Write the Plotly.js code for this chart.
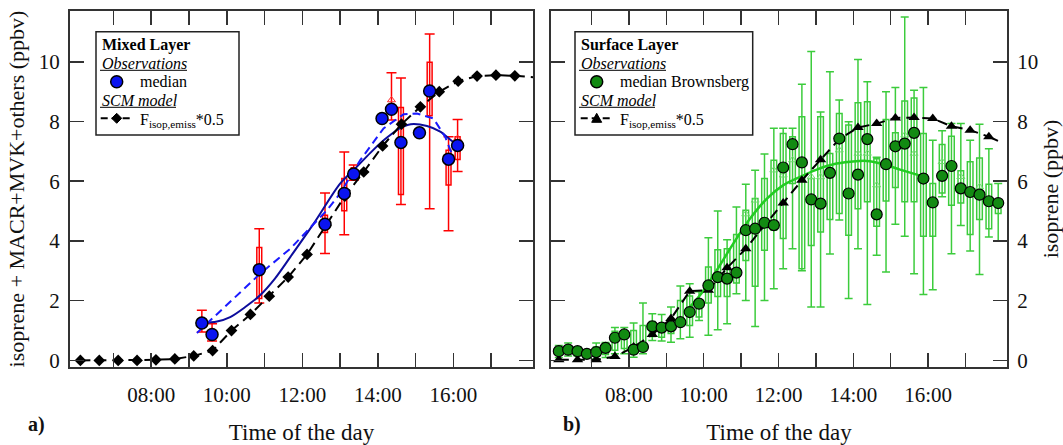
<!DOCTYPE html>
<html><head><meta charset="utf-8">
<script src="https://cdn.plot.ly/plotly-3.0.1.min.js"></script>
<style>html,body{margin:0;padding:0;background:#fff}#chart{width:1063px;height:445px}</style>
</head><body><div id="chart"></div>
<script>
// ---------- shared axis data ----------
const xTickVals = [8, 10, 12, 14, 16];
const xTickText = ['08:00', '10:00', '12:00', '14:00', '16:00'];
const xMinorVals = [7, 9, 11, 13, 15, 17];
const yTickVals = [0, 2, 4, 6, 8, 10];

// ---------- panel a: Mixed Layer ----------
const mlTime   = [9.34, 9.61, 10.86, 12.60, 13.11, 13.36, 14.11, 14.36, 14.61, 15.10, 15.37, 15.87, 16.11];
const mlMedian = [1.25, 0.87, 3.04, 4.56, 5.59, 6.24, 8.10, 8.41, 7.30, 7.62, 9.02, 6.74, 7.20];

const mlBoxTime   = [9.34, 9.61, 10.86, 12.60, 13.11, 13.36, 14.36, 14.61, 15.37, 15.87, 16.11];
const mlBoxMedian = [1.25, 0.87, 3.04, 4.56, 5.59, 6.24, 8.41, 7.30, 9.02, 6.74, 7.20];
const mlQ1 = [1.15, 0.80, 2.07, 4.28, 5.01, 6.05, 8.05, 5.56, 8.19, 5.87, 6.73];
const mlQ3 = [1.30, 0.95, 3.78, 4.86, 6.09, 6.45, 8.40, 8.47, 9.98, 7.04, 7.49];
const mlLo = [0.95, 0.65, 1.92, 3.58, 4.21, 6.03, 8.05, 5.22, 5.08, 4.34, 6.33];
const mlHi = [1.68, 1.23, 4.41, 5.61, 6.98, 6.54, 9.63, 9.46, 10.93, 7.49, 8.07];
const mlMeanTime = [14.36, 16.11];
const mlMean     = [8.72, 7.43];

const mlFitSolidTime = [9.34, 9.74, 10.09, 10.48, 10.88, 11.28, 11.68, 12.30, 13.00, 13.44, 13.80, 14.20, 14.59, 14.87, 15.30, 15.65, 15.91, 16.11];
const mlFitSolid     = [1.25, 1.30, 1.45, 1.78, 2.18, 2.75, 3.46, 4.58, 5.92, 6.48, 6.95, 7.42, 7.78, 7.91, 7.85, 7.66, 7.40, 7.20];
const mlFitDashTime  = [9.21, 10.88, 11.68, 12.65, 13.00, 13.53, 14.15, 14.68, 15.03, 15.47, 15.78, 15.96];
const mlFitDash      = [0.92, 2.90, 3.74, 5.03, 5.59, 6.70, 7.77, 8.24, 8.27, 8.10, 7.49, 6.91];

const modelTime = [6.125, 6.625, 7.125, 7.625, 8.125, 8.625, 9.125, 9.625, 10.125, 10.625, 11.125, 11.625,
                   12.125, 12.625, 13.125, 13.625, 14.125, 14.625, 15.125, 15.625, 16.125, 16.625, 17.125, 17.625];
const mlModel   = [0, 0, 0, 0, 0.02, 0.05, 0.15, 0.33, 1.00, 1.54, 2.15, 2.79,
                   3.55, 4.53, 5.50, 6.31, 7.18, 7.91, 8.49, 9.00, 9.35, 9.52, 9.55, 9.53];
const mlModelTailTime = [17.625, 18.11];
const mlModelTail     = [9.53, 9.48];

// ---------- panel b: Surface Layer ----------
const slTime = [6.125, 6.375, 6.625, 6.875, 7.125, 7.375, 7.625, 7.875, 8.125, 8.375, 8.625, 8.875,
                9.125, 9.375, 9.625, 9.875, 10.125, 10.375, 10.625, 10.875, 11.125, 11.375, 11.625, 11.875,
                12.125, 12.375, 12.625, 12.875, 13.125, 13.375, 13.625, 13.875, 14.125, 14.375, 14.625, 14.875,
                15.125, 15.375, 15.625, 15.875, 16.125, 16.375, 16.625, 16.875, 17.125, 17.375, 17.625, 17.875];
const slMedian = [0.31, 0.36, 0.31, 0.22, 0.28, 0.42, 0.76, 0.87, 0.36, 0.45, 1.14, 1.10,
                  1.14, 1.28, 1.62, 1.90, 2.51, 2.79, 2.74, 2.94, 4.36, 4.41, 4.61, 4.53,
                  6.46, 7.24, 6.63, 5.39, 5.25, 6.28, 7.43, 5.59, 6.22, 7.41, 4.89, 6.57,
                  7.17, 7.26, 7.62, 6.09, 5.29, 6.18, 6.51, 5.76, 5.64, 5.55, 5.33, 5.27];
const slQ1 = [0.20, 0.25, 0.20, 0.15, 0.15, 0.20, 0.34, 0.40, 0.22, 0.40, 0.80, 0.78,
              0.90, 1.17, 1.17, 1.45, 1.92, 2.14, 2.14, 2.59, 3.35, 2.48, 3.69, 4.36,
              4.08, 5.92, 3.07, 3.85, 4.30, 4.72, 4.92, 4.19, 5.08, 5.31, 4.49, 5.34,
              5.79, 5.31, 5.31, 4.16, 4.16, 5.61, 5.20, 5.27, 4.22, 4.72, 4.41, 4.92];
const slQ3 = [0.40, 0.45, 0.40, 0.30, 0.45, 0.55, 0.98, 0.90, 1.00, 1.17, 1.30, 1.23,
              1.40, 2.01, 2.16, 1.96, 3.13, 3.71, 3.74, 4.22, 5.03, 5.42, 6.09, 6.70,
              7.60, 7.49, 8.16, 6.09, 8.16, 6.93, 8.27, 7.88, 8.63, 8.66, 6.75, 8.07,
              7.62, 8.69, 8.79, 7.60, 5.92, 7.23, 7.51, 6.35, 6.65, 6.78, 5.90, 5.35];
const slLo = [0.10, 0.15, 0.15, 0.10, 0.05, 0.10, 0.22, 0.22, 0.11, 0.22, 0.67, 0.65,
              0.61, 0.73, 0.78, 1.34, 0.84, 1.03, 1.23, 2.23, 2.01, 1.14, 2.01, 2.40,
              3.07, 3.74, 3.00, 1.79, 1.79, 3.56, 4.70, 2.07, 3.74, 1.87, 3.52, 2.96,
              4.56, 4.16, 2.90, 2.21, 2.37, 5.48, 3.57, 4.52, 3.66, 2.88, 4.13, 4.00];
const slHi = [0.50, 0.58, 0.45, 0.33, 0.58, 0.60, 1.10, 1.10, 1.25, 1.92, 1.56, 1.54,
              1.79, 2.49, 2.57, 2.30, 4.11, 5.00, 4.04, 5.14, 5.90, 6.37, 6.91, 7.77,
              7.77, 7.77, 9.25, 10.34, 8.32, 9.67, 8.72, 7.99, 10.08, 9.33, 6.80, 9.00,
              9.14, 11.50, 9.05, 9.14, 7.37, 7.69, 7.93, 7.93, 7.37, 7.91, 7.09, 5.92];
const slMeanTime = [11.125, 11.375, 11.875, 12.125, 12.375, 12.875, 13.125, 13.625, 14.125, 14.375,
                    14.625, 15.375, 15.625, 16.375, 16.875, 17.375];
const slMean     = [4.90, 5.36, 6.37, 6.20, 6.71, 6.15, 6.14, 7.04, 6.93, 6.93,
                    5.87, 7.54, 6.93, 6.65, 6.15, 5.81];

const slFitTime = [9.60, 9.90, 10.35, 10.79, 11.24, 11.69, 12.13, 12.58, 13.02, 13.47, 13.92, 14.36, 14.81, 15.25, 15.70, 16.01];
const slFit     = [1.75, 2.18, 3.02, 3.91, 4.75, 5.42, 5.87, 6.15, 6.39, 6.57, 6.65, 6.68, 6.57, 6.39, 6.22, 6.09];

const slModel = [0.02, 0.02, 0.02, 0.13, 0.45, 0.87, 1.40, 2.32, 2.35, 3.10, 3.74, 4.52,
                 5.27, 6.03, 6.72, 7.41, 7.80, 7.93, 8.12, 8.13, 8.10, 7.84, 7.71, 7.49];
const slModelTailTime = [17.625, 17.93];
const slModelTail     = [7.49, 7.32];

// ---------- styles & page geometry ----------
const FONT = 'Liberation Serif, Times New Roman, serif';
const AX = '#333333';
const dashModel = '10px,6px';
const W = 1063, H = 445, ML = 70, MR = 56, MT = 11, MB = 78;
const px = v => (v - ML) / (W - ML - MR);   // pixel column -> paper x
const py = v => (H - MB - v) / (H - MT - MB); // pixel row -> paper y

function whiskers(x, lo, hi, color, capHalf, xa, ya) {
  return {
    type: 'scatter', mode: 'markers', x: x, y: hi, xaxis: xa, yaxis: ya,
    marker: {size: 1, color: 'rgba(0,0,0,0)'},
    error_y: {type: 'data', symmetric: false, array: hi.map(() => 0),
              arrayminus: hi.map((h, i) => h - lo[i]),
              color: color, thickness: 1.5, width: capHalf},
    showlegend: false, hoverinfo: 'skip'
  };
}
function boxes(x, q1, med, q3, color, w, xa, ya) {
  return {
    type: 'box', orientation: 'v', x: x, q1: q1, median: med, q3: q3,
    lowerfence: q1, upperfence: q3, width: w, whiskerwidth: 0,
    line: {color: color, width: 1.5}, fillcolor: '#ffffff', boxpoints: false,
    xaxis: xa, yaxis: ya, showlegend: false, hoverinfo: 'skip'
  };
}
function means(x, y, color, xa, ya) {
  return {type: 'scatter', mode: 'markers', x: x, y: y, xaxis: xa, yaxis: ya,
          marker: {symbol: 'triangle-up-open', size: 7, color: color, line: {width: 1}},
          showlegend: false, hoverinfo: 'skip'};
}

const traces = [
  // panel a
  whiskers(mlBoxTime, mlLo, mlHi, '#ff0000', 5, 'x', 'y'),
  boxes(mlBoxTime, mlQ1, mlBoxMedian, mlQ3, '#ff0000', 0.13, 'x', 'y'),
  means(mlMeanTime, mlMean, '#ff3030', 'x', 'y'),
  {type: 'scatter', mode: 'lines', x: mlFitSolidTime, y: mlFitSolid, xaxis: 'x', yaxis: 'y',
   line: {color: '#0c0c9c', width: 2, shape: 'spline', smoothing: 0.8}, showlegend: false, hoverinfo: 'skip'},
  {type: 'scatter', mode: 'lines', x: mlFitDashTime, y: mlFitDash, xaxis: 'x', yaxis: 'y',
   line: {color: '#1a1aff', width: 2, dash: '8px,5px', shape: 'linear'}, showlegend: false, hoverinfo: 'skip'},
  {type: 'scatter', mode: 'lines', x: mlModelTailTime, y: mlModelTail, xaxis: 'x', yaxis: 'y',
   line: {color: '#000', width: 2, dash: dashModel}, showlegend: false, hoverinfo: 'skip'},
  {type: 'scatter', mode: 'lines+markers', x: modelTime, y: mlModel, xaxis: 'x', yaxis: 'y',
   name: 'F_isop,emiss*0.5', showlegend: false,
   line: {color: '#000', width: 2, dash: dashModel}, marker: {symbol: 'diamond', size: 9, color: '#000'}},
  {type: 'scatter', mode: 'markers', x: mlTime, y: mlMedian, xaxis: 'x', yaxis: 'y',
   name: 'median', showlegend: false,
   marker: {color: '#0a14f0', size: 12, line: {color: '#000', width: 1.5}}},
  // panel b
  whiskers(slTime, slLo, slHi, '#3ccc3c', 4, 'x2', 'y2'),
  boxes(slTime, slQ1, slMedian, slQ3, '#3ccc3c', 0.15, 'x2', 'y2'),
  means(slMeanTime, slMean, '#6edc6e', 'x2', 'y2'),
  {type: 'scatter', mode: 'lines', x: slFitTime, y: slFit, xaxis: 'x2', yaxis: 'y2',
   line: {color: '#22cc22', width: 2.5, shape: 'spline'}, showlegend: false, hoverinfo: 'skip'},
  {type: 'scatter', mode: 'lines', x: slModelTailTime, y: slModelTail, xaxis: 'x2', yaxis: 'y2',
   line: {color: '#000', width: 2, dash: dashModel}, showlegend: false, hoverinfo: 'skip'},
  {type: 'scatter', mode: 'lines+markers', x: modelTime, y: slModel, xaxis: 'x2', yaxis: 'y2',
   name: 'F_isop,emiss*0.5', showlegend: false,
   line: {color: '#000', width: 2, dash: dashModel}, marker: {symbol: 'triangle-up', size: 10, color: '#000'}},
  {type: 'scatter', mode: 'markers', x: slTime, y: slMedian, xaxis: 'x2', yaxis: 'y2',
   name: 'median Brownsberg', showlegend: false,
   marker: {color: '#128a12', size: 11, line: {color: '#000', width: 1.2}}}
];

function xaxisDef(domain, range, anchor) {
  return {
    domain: domain, range: range, anchor: anchor,
    tickmode: 'array', tickvals: xTickVals, ticktext: xTickText,
    ticks: 'inside', ticklen: 14, tickwidth: 1.5, tickcolor: AX,
    minor: {tickmode: 'array', tickvals: xMinorVals, ticks: 'inside', ticklen: 14, tickwidth: 1.5, tickcolor: AX, showgrid: false},
    showline: true, linecolor: AX, linewidth: 2, mirror: 'ticks',
    showgrid: false, zeroline: false, ticklabelstandoff: 8,
    tickfont: {family: FONT, size: 21, color: '#111'},
    title: {text: 'Time of the day', font: {family: FONT, size: 23, color: '#111'}, standoff: 31}
  };
}
function yaxisDef(anchor, side, title) {
  return {
    domain: [0, 1], range: [-0.22, 11.7], anchor: anchor, side: side,
    tickmode: 'array', tickvals: yTickVals,
    ticks: 'inside', ticklen: 14, tickwidth: 1.5, tickcolor: AX,
    showline: true, linecolor: AX, linewidth: 2, mirror: 'ticks',
    showgrid: false, zeroline: false, ticklabelstandoff: 4,
    tickfont: {family: FONT, size: 21, color: '#111'},
    title: {text: title, font: {family: FONT, size: 22, color: '#111'}, standoff: 8}
  };
}

// ---------- hand-built legend boxes ----------
const legFont = {family: FONT, size: 16, color: '#000'};
const legBold = {family: FONT, size: 16, color: '#000', weight: 'bold'};
const legItal = {family: FONT, size: 16, color: '#000', style: 'italic'};
function legend(box, textX, symX, title, obsText, obsColor, modelSymbolPath) {
  const L = box[0] + 4;
  const uline = (x0, len, y) => ({type: 'line', xref: 'paper', yref: 'paper', x0: px(x0), x1: px(x0 + len),
                                  y0: py(y), y1: py(y), line: {color: '#000', width: 1}, layer: 'above'});
  const shapes = [
    {type: 'rect', xref: 'paper', yref: 'paper', x0: px(box[0]), x1: px(box[1]), y0: py(135), y1: py(31.7),
     line: {color: '#222', width: 1.5}, fillcolor: '#ffffff', layer: 'above'},
    uline(L, 87, 70.3),
    uline(L, 76, 107.3),
    {type: 'circle', xref: 'paper', yref: 'paper', xsizemode: 'pixel', ysizemode: 'pixel',
     xanchor: px(symX), yanchor: py(81.7), x0: -6, x1: 6, y0: -6, y1: 6,
     fillcolor: obsColor, line: {color: '#000', width: 1.5}, layer: 'above'},
    {type: 'line', xref: 'paper', yref: 'paper', x0: px(symX - 16), x1: px(symX + 14), y0: py(118.3), y1: py(118.3),
     line: {color: '#000', width: 2, dash: '7px,4px'}, layer: 'above'},
    {type: 'path', xref: 'paper', yref: 'paper', xsizemode: 'pixel', ysizemode: 'pixel',
     xanchor: px(symX), yanchor: py(118.3), path: modelSymbolPath,
     fillcolor: '#000', line: {color: '#000', width: 1}, layer: 'above'}
  ];
  const ann = (t, x, y, f) => ({text: t, xref: 'paper', yref: 'paper', x: px(x), y: py(y), showarrow: false,
                              xanchor: 'left', yanchor: 'middle', font: f || legFont});
  const anns = [
    ann(title, L, 45, legBold),
    ann('Observations', L, 63.3, legItal),
    ann(obsText, textX, 81.7),
    ann('SCM model', L, 100, legItal),
    ann('F<sub>isop,emiss</sub>*0.5', textX, 120.5)
  ];
  return {shapes, anns};
}
const legA = legend([96, 239], 138, 116.7, 'Mixed Layer', 'median', '#0a14f0', 'M0,5 L5,0 L0,-5 L-5,0 Z');
const legB = legend([575, 752.7], 618, 596.7, 'Surface Layer', 'median Brownsberg', '#128a12', 'M-5,-4 L5,-4 L0,5 Z');

const panelFont = {family: FONT, size: 20, color: '#111', weight: 'bold'};
const layout = {
  width: W, height: H,
  margin: {l: ML, r: MR, t: MT, b: MB, pad: 0},
  paper_bgcolor: '#ffffff', plot_bgcolor: '#ffffff',
  font: {family: FONT, color: '#111'},
  boxmode: 'overlay', showlegend: false,
  xaxis: xaxisDef([0, 0.4943], [5.85, 18.11], 'y'),
  yaxis: yaxisDef('x', 'left', 'isoprene + MACR+MVK+others (ppbv)'),
  xaxis2: xaxisDef([0.5135, 1], [5.92, 18.11], 'y2'),
  yaxis2: yaxisDef('x2', 'right', 'isoprene (ppbv)'),
  shapes: legA.shapes.concat(legB.shapes),
  annotations: legA.anns.concat(legB.anns).concat([
    {text: 'a)', xref: 'paper', yref: 'paper', x: px(36.5), y: py(424), showarrow: false,
     font: panelFont, xanchor: 'center', yanchor: 'middle'},
    {text: 'b)', xref: 'paper', yref: 'paper', x: px(572), y: py(424), showarrow: false,
     font: panelFont, xanchor: 'center', yanchor: 'middle'}
  ])
};

Plotly.newPlot('chart', traces, layout, {displayModeBar: false, staticPlot: true});
</script></body></html>
